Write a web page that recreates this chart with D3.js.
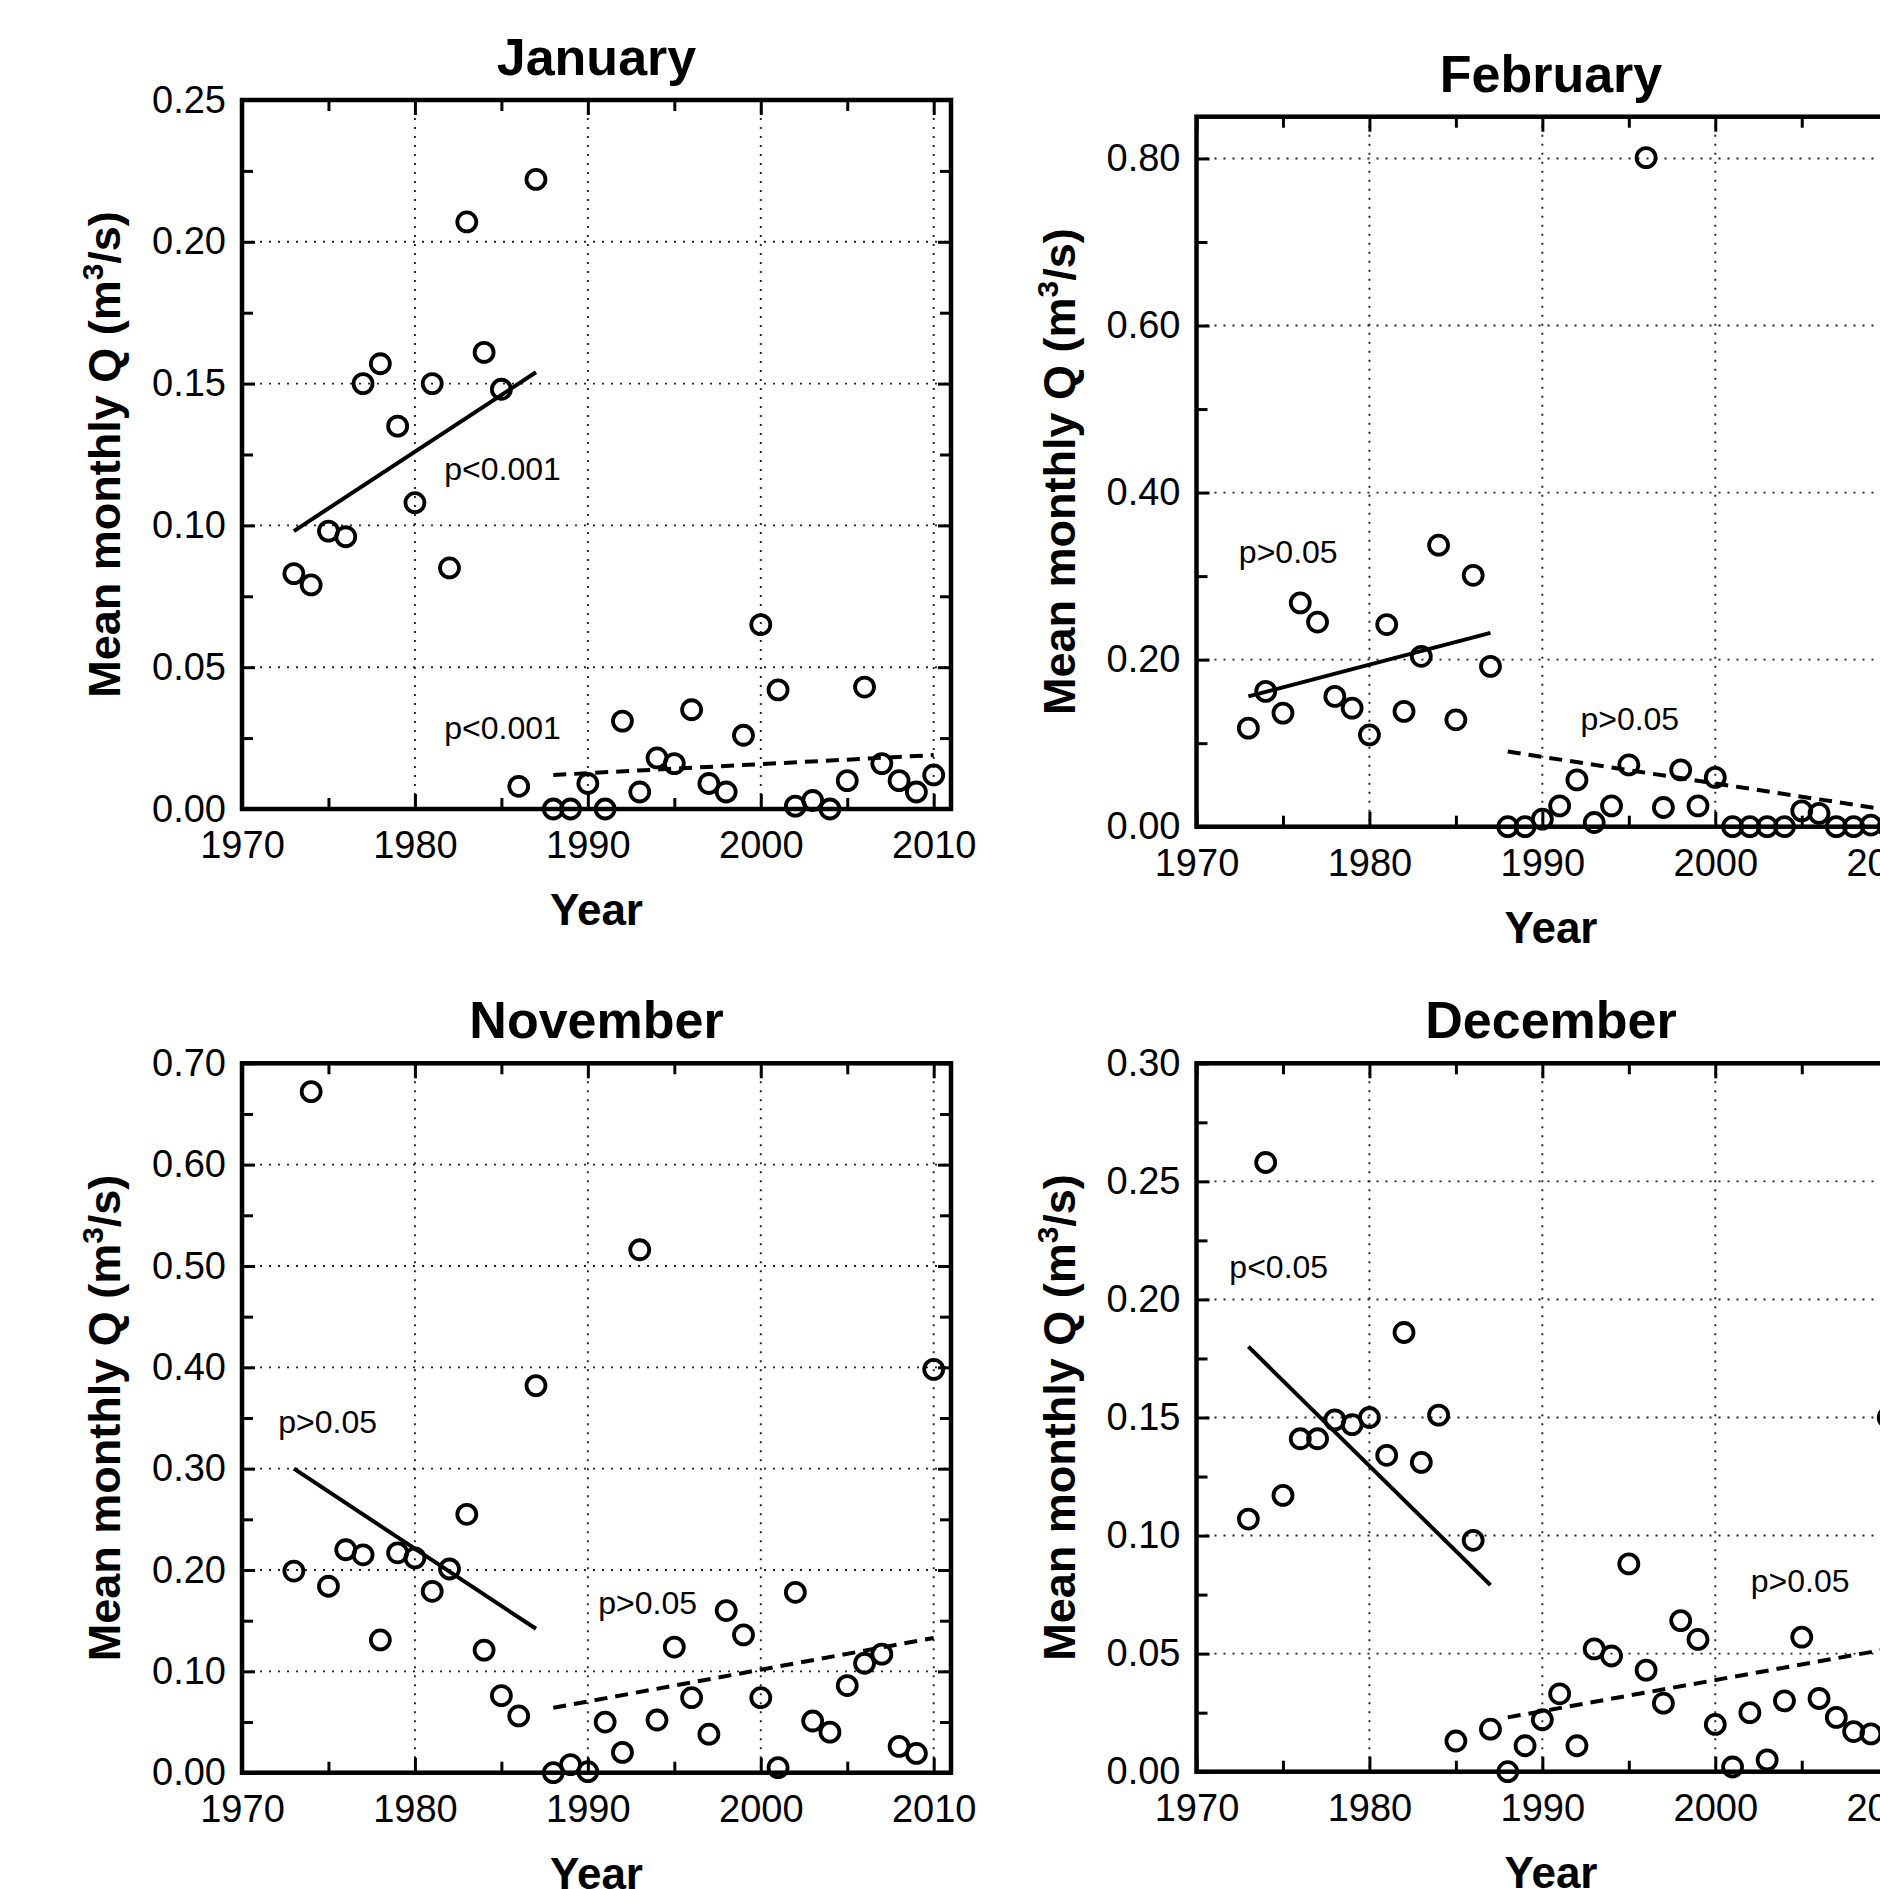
<!DOCTYPE html>
<html>
<head>
<meta charset="utf-8">
<script src="https://cdn.jsdelivr.net/npm/d3@7"></script>
<style>
  html, body { margin: 0; padding: 0; background: #fff; overflow: hidden; }
  svg { display: block; }
  text { font-family: "Liberation Sans", Arial, Helvetica, sans-serif; fill: #000; }
</style>
</head>
<body>
<svg id="chart" width="1880" height="1889"></svg>
<script>
// ---- data ----
const years = [1973, 1974, 1975, 1976, 1977, 1978, 1979, 1980, 1981, 1982, 1983, 1984, 1985, 1986, 1987,
  1988, 1989, 1990, 1991, 1992, 1993, 1994, 1995, 1996, 1997, 1998, 1999, 2000, 2001, 2002, 2003, 2004,
  2005, 2006, 2007, 2008, 2009, 2010];

const janQ = [0.083, 0.079, 0.098, 0.096, 0.150, 0.157, 0.135, 0.108, 0.150, 0.085, 0.207, 0.161, 0.148, 0.008, 0.222,
  0.000, 0.000, 0.009, 0.000, 0.031, 0.006, 0.018, 0.016, 0.035, 0.009, 0.006, 0.026, 0.065, 0.042, 0.001, 0.003, 0.000,
  0.010, 0.043, 0.016, 0.010, 0.006, 0.012];
const febQ = [0.118, 0.162, 0.136, 0.268, 0.245, 0.156, 0.142, 0.110, 0.242, 0.138, 0.204, 0.337, 0.128, 0.301, 0.192,
  0.000, 0.000, 0.009, 0.025, 0.056, 0.005, 0.025, 0.074, 0.801, 0.023, 0.068, 0.025, 0.059, 0.000, 0.000, 0.000, 0.000,
  0.019, 0.016, 0.000, 0.000, 0.002, 0.000];
const novQ = [0.199, 0.672, 0.184, 0.220, 0.215, 0.131, 0.217, 0.212, 0.179, 0.201, 0.255, 0.121, 0.076, 0.056, 0.382,
  0.000, 0.008, 0.001, 0.050, 0.020, 0.516, 0.052, 0.124, 0.074, 0.038, 0.160, 0.136, 0.074, 0.005, 0.178, 0.051, 0.040,
  0.086, 0.108, 0.117, 0.026, 0.019, 0.398];
const decQ = [0.107, 0.258, 0.117, 0.141, 0.141, 0.149, 0.147, 0.150, 0.134, 0.186, 0.131, 0.151, 0.013, 0.098, 0.018,
  0.000, 0.011, 0.022, 0.033, 0.011, 0.052, 0.049, 0.088, 0.043, 0.029, 0.064, 0.056, 0.020, 0.002, 0.025, 0.005, 0.030,
  0.057, 0.031, 0.023, 0.017, 0.016, 0.150];

const months = ['January', 'February', 'November', 'December'];
const series = [janQ, febQ, novQ, decQ];
const yMax = [0.25, 0.85, 0.70, 0.30];
const yStep = [0.05, 0.20, 0.10, 0.05];

// fitted trend lines: [year, Q] end points, before / after 1988
const trendBefore = [[[1973, 0.098], [1987, 0.154]], [[1973, 0.156], [1987, 0.232]],
  [[1973, 0.300], [1987, 0.142]], [[1973, 0.180], [1987, 0.079]]];
const trendAfter = [[[1988, 0.012], [2010, 0.019]], [[1988, 0.090], [2010, 0.020]],
  [[1988, 0.064], [2010, 0.133]], [[1988, 0.023], [2010, 0.052]]];

// significance notes: text, year, Q (left end of text baseline)
const notes = [
  [['p<0.001', 1981.7, 0.116], ['p<0.001', 1981.7, 0.0246]],
  [['p>0.05', 1972.45, 0.316], ['p>0.05', 1992.2, 0.116]],
  [['p>0.05', 1972.1, 0.335], ['p>0.05', 1990.6, 0.157]],
  [['p<0.05', 1971.9, 0.209], ['p>0.05', 2002.05, 0.076]],
];

const majorYears = [1970, 1980, 1990, 2000, 2010];
const minorYears = [1975, 1985, 1995, 2005];
const gridYears = [1980, 1990, 2000, 2010];

// ---- layout ----
const panels = [
  { left: 242, top: 100, width: 709, height: 709 },
  { left: 1196.5, top: 116.7, width: 709, height: 710 },
  { left: 242, top: 1063.3, width: 709, height: 709.4 },
  { left: 1196.5, top: 1063.3, width: 709, height: 708.4 },
];

const svg = d3.select('#chart');
const fmt = d3.format('.2f');

months.forEach((month, i) => {
  const p = panels[i];
  const x = d3.scaleLinear().domain([1970, 2011]).range([0, p.width]);
  const y = d3.scaleLinear().domain([0, yMax[i]]).range([p.height, 0]);
  const g = svg.append('g').attr('transform', `translate(${p.left},${p.top})`);

  const majorY = d3.range(0, yMax[i] + 1e-9, yStep[i]).map(v => +v.toFixed(3));
  const minorY = majorY.map(v => +(v + yStep[i] / 2).toFixed(3)).filter(v => v < yMax[i]);

  // grid
  const grid = g.append('g').attr('class', 'grid');
  grid.selectAll('line.gx')
    .data(gridYears)
    .enter()
    .append('line')
    .attr('x1', d => x(d))
    .attr('x2', d => x(d))
    .attr('y1', 0)
    .attr('y2', p.height);
  grid.selectAll('line.gy')
    .data(majorY.filter(v => v > 0 && v < yMax[i]))
    .enter()
    .append('line')
    .attr('x1', 0)
    .attr('x2', p.width)
    .attr('y1', d => y(d))
    .attr('y2', d => y(d));
  grid.selectAll('line')
    .attr('stroke', '#222')
    .attr('stroke-width', 1.9)
    .attr('stroke-dasharray', '2,7');

  // axes, ticks pointing inward on all four sides
  const styleAxis = (sel) => {
    sel.select('.domain').remove();
    sel.selectAll('.tick line').attr('stroke', '#000').attr('stroke-width', 3);
    sel.selectAll('.tick text').attr('font-size', 38).attr('font-family', '"Liberation Sans", Arial, sans-serif');
  };
  g.append('g').attr('transform', `translate(0,${p.height})`)
    .call(d3.axisBottom(x).tickValues(majorYears).tickSize(-15).tickPadding(22).tickFormat(d3.format('d')))
    .call(styleAxis);
  g.append('g').attr('transform', `translate(0,${p.height})`)
    .call(d3.axisBottom(x).tickValues(minorYears).tickSize(-11).tickFormat(''))
    .call(styleAxis);
  g.append('g')
    .call(d3.axisTop(x).tickValues(majorYears).tickSize(-15).tickFormat(''))
    .call(styleAxis);
  g.append('g')
    .call(d3.axisTop(x).tickValues(minorYears).tickSize(-11).tickFormat(''))
    .call(styleAxis);
  g.append('g')
    .call(d3.axisLeft(y).tickValues(majorY).tickSize(-13).tickPadding(16).tickFormat(fmt))
    .call(styleAxis);
  g.append('g')
    .call(d3.axisLeft(y).tickValues(minorY).tickSize(-11).tickFormat(''))
    .call(styleAxis);
  g.append('g').attr('transform', `translate(${p.width},0)`)
    .call(d3.axisRight(y).tickValues(majorY).tickSize(-13).tickFormat(''))
    .call(styleAxis);
  g.append('g').attr('transform', `translate(${p.width},0)`)
    .call(d3.axisRight(y).tickValues(minorY).tickSize(-11).tickFormat(''))
    .call(styleAxis);

  g.append('rect')
    .attr('width', p.width)
    .attr('height', p.height)
    .attr('fill', 'none')
    .attr('stroke', '#000')
    .attr('stroke-width', 4.5);

  // trend lines
  const line = d3.line().x(d => x(d[0])).y(d => y(d[1]));
  g.append('path')
    .attr('d', line(trendBefore[i]))
    .attr('fill', 'none')
    .attr('stroke', '#000')
    .attr('stroke-width', 4);
  g.append('path')
    .attr('d', line(trendAfter[i]))
    .attr('fill', 'none')
    .attr('stroke', '#000')
    .attr('stroke-width', 4)
    .attr('stroke-dasharray', '13,8');

  // points
  g.append('g')
    .selectAll('circle')
    .data(years.map((yr, k) => [yr, series[i][k]]))
    .enter()
    .append('circle')
    .attr('cx', d => x(d[0]))
    .attr('cy', d => y(d[1]))
    .attr('r', 9.5)
    .attr('fill', 'none')
    .attr('stroke', '#000')
    .attr('stroke-width', 3.8);

  // p-value notes
  g.selectAll('text.note')
    .data(notes[i])
    .enter()
    .append('text')
    .attr('class', 'note')
    .attr('x', d => x(d[1]))
    .attr('y', d => y(d[2]))
    .attr('font-size', 32)
    .attr('fill', '#222')
    .text(d => d[0]);

  // titles and labels
  g.append('text')
    .attr('x', p.width / 2)
    .attr('y', -25)
    .attr('text-anchor', 'middle')
    .attr('font-size', 52)
    .attr('font-weight', 'bold')
    .text(month);

  g.append('text')
    .attr('x', p.width / 2)
    .attr('y', p.height + 116)
    .attr('text-anchor', 'middle')
    .attr('font-size', 44)
    .attr('font-weight', 'bold')
    .text('Year');

  const yl = g.append('text')
    .attr('transform', `translate(-122,${p.height / 2}) rotate(-90)`)
    .attr('text-anchor', 'middle')
    .attr('font-size', 45)
    .attr('font-weight', 'bold');
  yl.append('tspan').text('Mean monthly Q (m');
  yl.append('tspan').attr('dy', -17).attr('font-size', 30).text('3');
  yl.append('tspan').attr('dy', 17).text('/s)');
});
</script>
</body>
</html>
